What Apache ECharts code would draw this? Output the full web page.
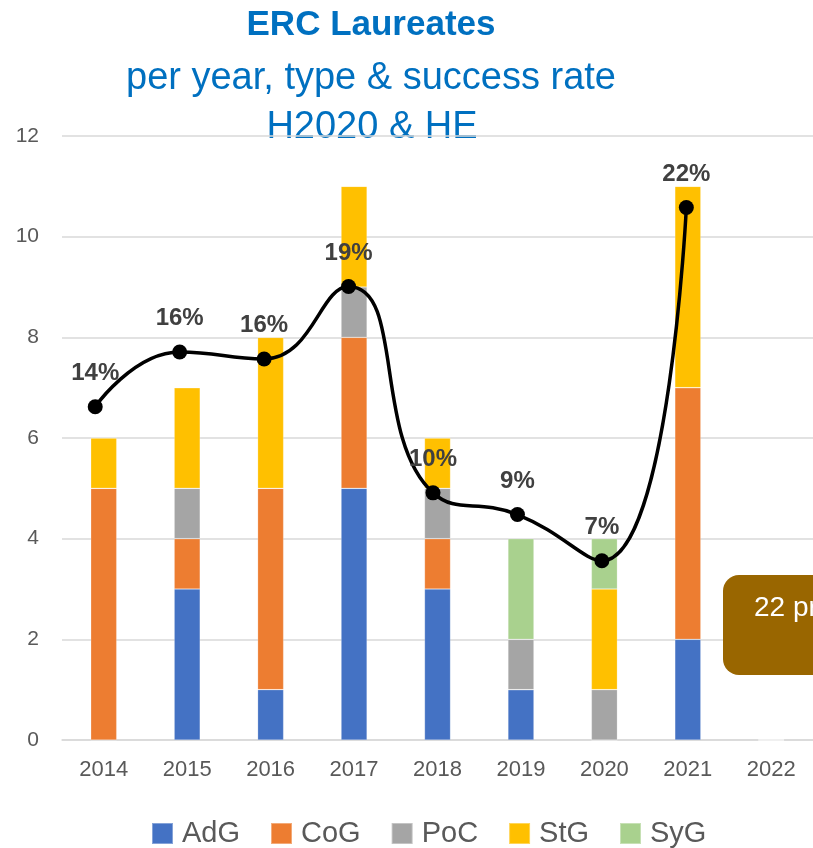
<!DOCTYPE html>
<html>
<head>
<meta charset="utf-8">
<script src="https://cdn.jsdelivr.net/npm/echarts@6/dist/echarts.min.js"></script>
<style>
  html, body { margin: 0; padding: 0; background: #fff; }
  #chart { width: 813px; height: 848px; }
</style>
</head>
<body>
<div id="chart"></div>
<script>
// 年份
const years = ['2014', '2015', '2016', '2017', '2018', '2019', '2020', '2021', '2022'];

// 各类资助数量
const adg = [0, 3, 1, 5, 3, 1, 0, 2, 0];
const cog = [5, 1, 4, 3, 1, 0, 0, 5, 0];
const poc = [0, 1, 0, 1, 1, 1, 1, 0, 0];
const stg = [1, 2, 3, 2, 1, 0, 2, 4, 0];
const syg = [0, 0, 0, 0, 0, 2, 1, 0, 0];

// 成功率折线（位置按左轴读出）及标签
const rateLevel = [6.62, 7.71, 7.57, 9.01, 4.91, 4.48, 3.56, 10.58, null];
const rateLabels = ['14%', '16%', '16%', '19%', '10%', '9%', '7%', '22%', ''];

// y轴刻度
const yMin = 0, yMax = 12, yStep = 2;

const chart = echarts.init(document.getElementById('chart'));

const FONT = '"Liberation Sans", Arial, sans-serif';
const TITLE_BLUE = '#0070C0';

function barSeries(name, data, color) {
    return {
        name: name,
        type: 'bar',
        stack: 'total',
        xAxisIndex: 0,
        yAxisIndex: 0,
        barWidth: 26,
        data: data,
        itemStyle: { color: color, borderColor: 'rgba(255,255,255,0.35)', borderWidth: 0.6 },
        emphasis: { disabled: true }
    };
}

const option = {
    animation: false,
    backgroundColor: '#fff',
    grid: [
        { left: 62, width: 756, top: 136, height: 604 },
        { left: 53, width: 770, top: 136, height: 604 }
    ],
    xAxis: [{
        gridIndex: 0,
        type: 'category',
        data: years,
        axisLine: { lineStyle: { color: '#d9d9d9', width: 1.5 } },
        axisTick: { show: false },
        axisLabel: { color: '#595959', fontSize: 22, fontFamily: FONT, margin: 19 }
    }, {
        gridIndex: 1,
        type: 'category',
        data: years,
        show: false
    }],
    yAxis: [{
        gridIndex: 0,
        type: 'value',
        min: yMin,
        max: yMax,
        interval: yStep,
        axisLine: { show: false },
        axisTick: { show: false },
        splitLine: { lineStyle: { color: '#d9d9d9', width: 1.5 } },
        axisLabel: { color: '#595959', fontSize: 21, fontFamily: FONT, margin: 23 }
    }, {
        gridIndex: 1,
        type: 'value',
        min: yMin,
        max: yMax,
        show: false
    }],
    legend: {
        data: ['AdG', 'CoG', 'PoC', 'StG', 'SyG'],
        left: 146,
        top: 814,
        itemWidth: 21,
        itemHeight: 21,
        itemGap: 30,
        icon: 'rect',
        textStyle: { color: '#595959', fontSize: 29, fontFamily: FONT, padding: [0, 0, 0, 4] }
    },
    series: [
        barSeries('AdG', adg, '#4472C4'),
        barSeries('CoG', cog, '#ED7D31'),
        barSeries('PoC', poc, '#A5A5A5'),
        barSeries('StG', stg, '#FFC000'),
        barSeries('SyG', syg, '#A9D18E'),
        {
            name: 'rate',
            type: 'line',
            xAxisIndex: 1,
            yAxisIndex: 1,
            data: rateLevel,
            smooth: 0.5,
            symbol: 'circle',
            symbolSize: 15,
            lineStyle: { color: '#000', width: 3.5 },
            itemStyle: { color: '#000' },
            label: {
                show: true,
                position: 'top',
                distance: 14,
                color: '#404040',
                fontSize: 24,
                fontWeight: 'bold',
                fontFamily: FONT,
                formatter: p => rateLabels[p.dataIndex]
            },
            emphasis: { disabled: true },
            z: 5
        }
    ],
    graphic: [
        {
            type: 'text', x: 371, y: 25,
            style: { text: 'ERC Laureates', fill: TITLE_BLUE, font: 'bold 35px ' + FONT, textAlign: 'center', textVerticalAlign: 'middle' }
        },
        {
            type: 'text', x: 371, y: 79,
            style: { text: 'per year, type & success rate', fill: TITLE_BLUE, font: '38px ' + FONT, textAlign: 'center', textVerticalAlign: 'middle' }
        },
        {
            type: 'text', x: 372, y: 128,
            style: { text: 'H2020 & HE', fill: TITLE_BLUE, font: '38px ' + FONT, textAlign: 'center', textVerticalAlign: 'middle' }
        },
        {
            type: 'rect', x: 723, y: 575, z: 10,
            shape: { width: 200, height: 100, r: 16 },
            style: { fill: '#996600' }
        },
        {
            type: 'text', x: 754, y: 608, z: 11,
            style: { text: '22 projects', fill: '#fff', font: '28px ' + FONT, textVerticalAlign: 'middle' }
        }
    ]
};

chart.setOption(option);
</script>
</body>
</html>
